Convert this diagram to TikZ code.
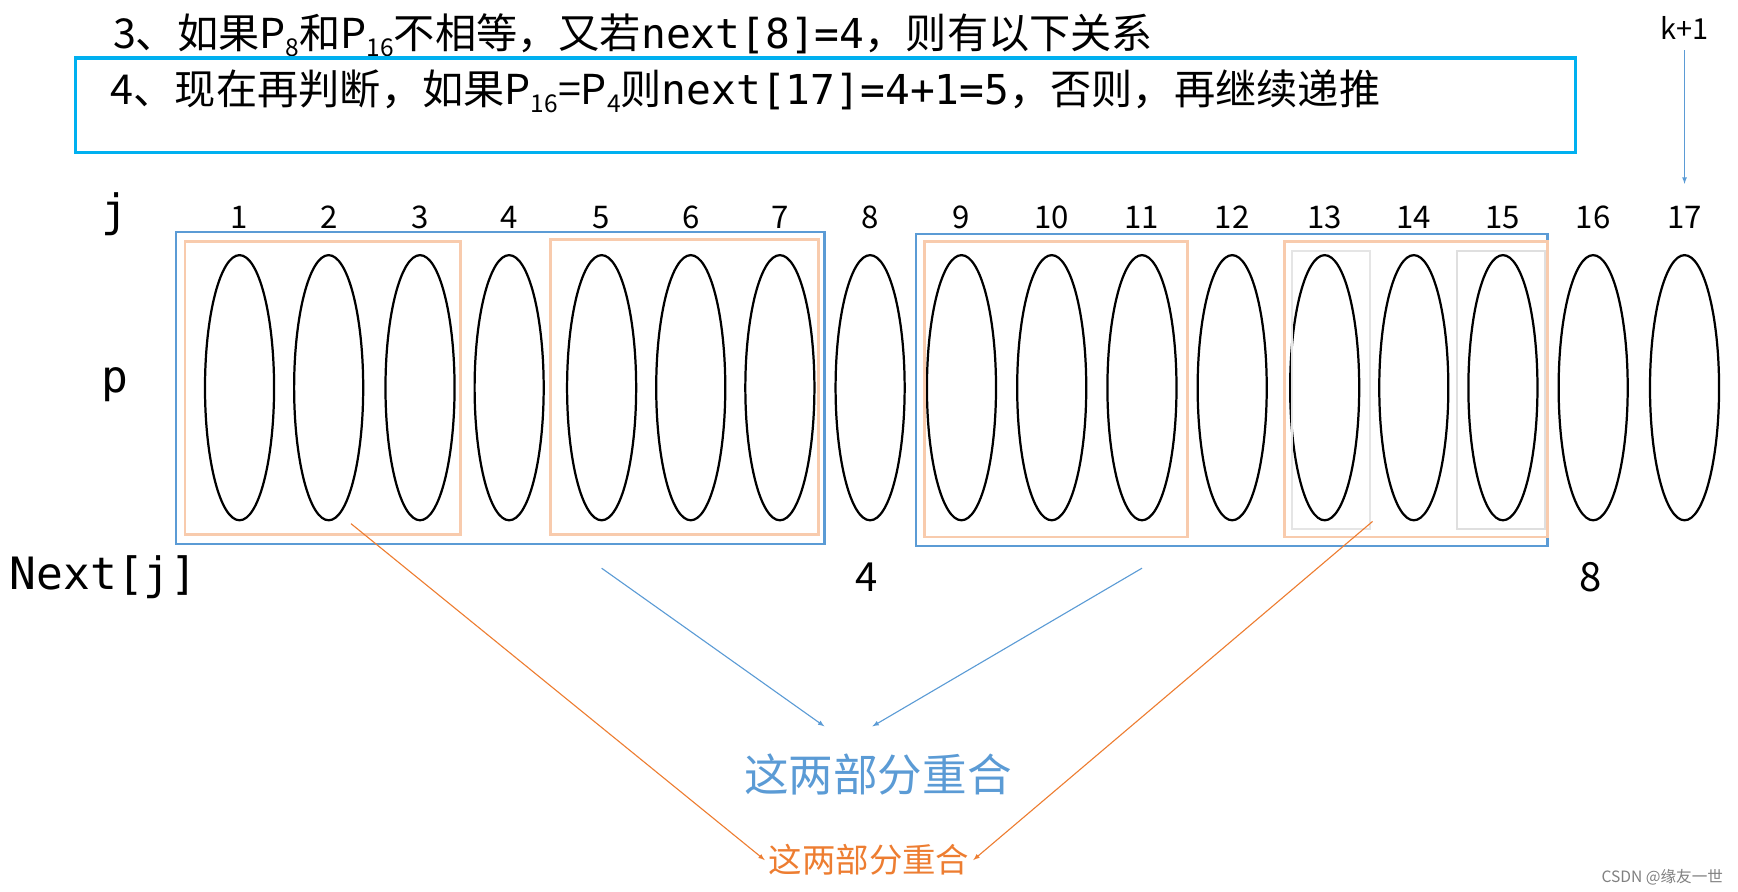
\documentclass[tikz,border=0pt]{standalone}
\usepackage{fontspec}
\usetikzlibrary{shapes.geometric}
\setmainfont{Noto Sans CJK SC}
\newfontfamily\monof{DejaVu Sans Mono}
\definecolor{sblue}{RGB}{91,155,213}
\definecolor{sorange}{RGB}{237,125,49}
\definecolor{lorange}{RGB}{248,203,173}
\definecolor{tblue}{RGB}{0,176,240}
\newcommand{\sbs}[1]{\raisebox{-0.35ex}{\fontsize{22}{24}\selectfont #1}}
\begin{document}
\begin{tikzpicture}[x=1pt,y=-1pt,
  ell/.style={draw,line width=2pt,ellipse,minimum width=62pt,minimum height=238pt,inner sep=0pt},
  num/.style={font=\fontsize{28}{30}\selectfont},
  bbox/.style={draw=sblue,line width=2pt},
  obox/.style={draw=lorange,line width=2.5pt},
  barr/.style={draw=sblue,line width=1pt,-latex},
  oarr/.style={draw=sorange,line width=1pt,-latex}]
\useasboundingbox (0,0) rectangle (1560,800);
\node[anchor=west,font=\fontsize{37}{38}\selectfont] (t3) at (98,32) {3、如果P\sbs{8}和P\sbs{16}不相等，又若{\monof next[8]=4}，则有以下关系};
\draw[draw=tblue,line width=3pt] (68,52) rectangle (1414,137);
\node[anchor=west,font=\fontsize{37}{38}\selectfont] (t4) at (96,82) {4、现在再判断，如果P\sbs{16}=P\sbs{4}则{\monof next[17]=4+1=5}，否则，再继续递推};
\node[font=\fontsize{26}{28}\selectfont] (k1) at (1512,25) {k+1};
\coordinate (k1b) at (1512,165);
\draw[barr] (k1) ++(0,20) -- (k1b);
\node[font=\fontsize{40}{42}\selectfont\monof] (j) at (103,192) {j};
\node[font=\fontsize{40}{42}\selectfont\monof] (p) at (103,345) {p};
\node[font=\fontsize{40}{42}\selectfont\monof] (nj) at (93,518) {Next[j]};
\node[font=\fontsize{36}{38}\selectfont] (n4) at (778,518) {4};
\node[font=\fontsize{36}{38}\selectfont] (n8) at (1428,518) {8};
\foreach \i/\x in {1/215,2/295,3/377,4/457,5/540,6/620,7/700,8/781,9/863,10/944,11/1025,12/1106,13/1189,14/1269,15/1349,16/1430,17/1512}{
  \node[num] (l\i) at (\x,195) {\i};
  \node[ell] (e\i) at (\x,348) {};
}
\draw[bbox] (158,208) rectangle (740,488);
\draw[bbox] (822,210) rectangle (1389,490);
\draw[obox] (166,217) rectangle (413,480);
\draw[obox] (494,215) rectangle (735,480);
\draw[obox] (830,217) rectangle (1066,482);
\draw[obox] (1153,217) rectangle (1389,482);
\draw[gray!20,line width=2pt] (1160,225) rectangle (1230,475);
\draw[gray!25,line width=2pt] (1308,225) rectangle (1387,475);
\node[font=\fontsize{40}{42}\selectfont,text=sblue] (c1) at (788,695) {这两部分重合};
\node[font=\fontsize{30}{32}\selectfont,text=sorange] (c2) at (780,772) {这两部分重合};
\coordinate (a1) at (540,510); \coordinate (a2) at (1025,510);
\coordinate (b1) at (315,470); \coordinate (b2) at (1232,468);
\draw[barr] (a1) -- (740,652);
\draw[barr] (a2) -- (783,652);
\draw[oarr] (b1) -- (c2.west);
\draw[oarr] (b2) -- (c2.east);
\node[font=\fontsize{14}{16}\selectfont,text=gray] (w) at (1492,787) {CSDN @缘友一世};
\end{tikzpicture}
\end{document}
